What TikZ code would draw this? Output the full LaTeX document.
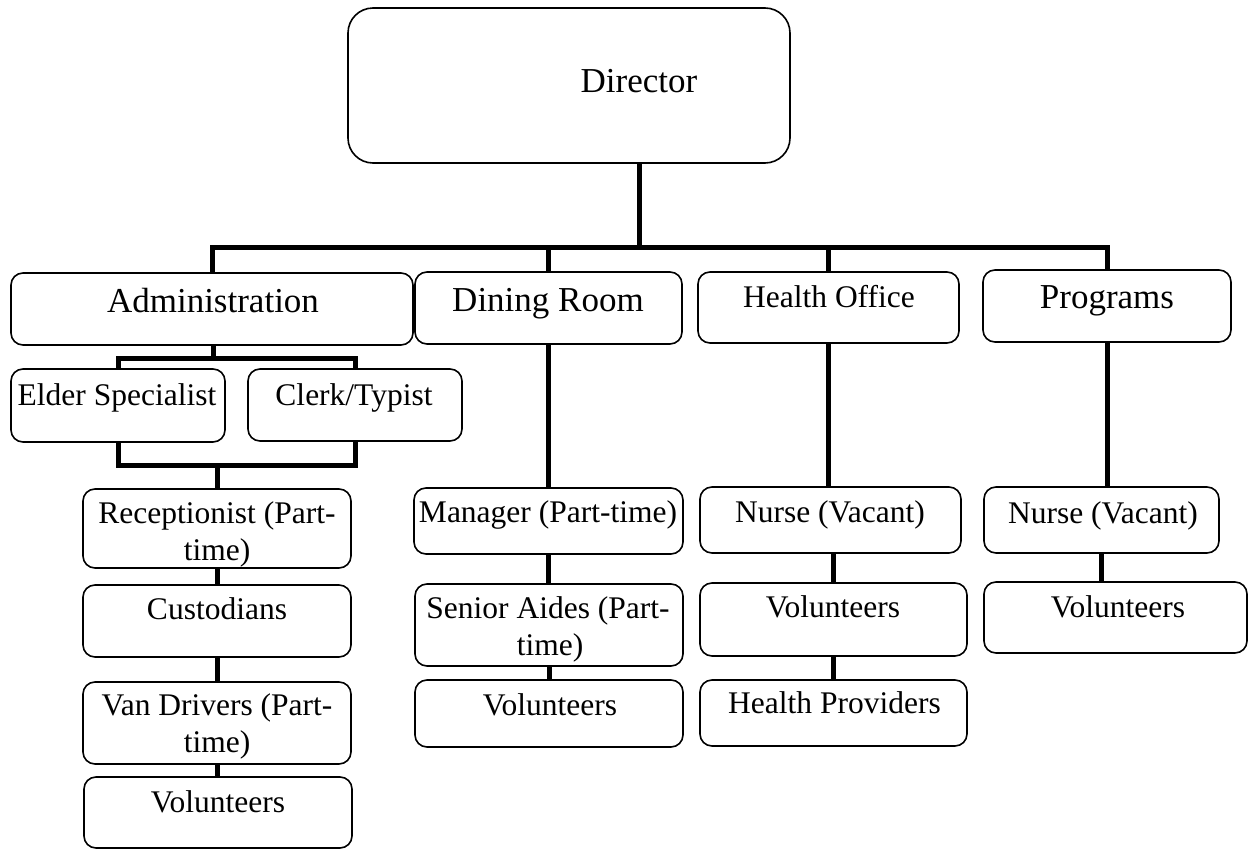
\documentclass[tikz,border=0pt]{standalone}
\usepackage{fontspec}
\setmainfont{Liberation Serif}
\begin{document}
\begin{tikzpicture}[x=1pt,y=-1pt,
  box/.style={draw, line width=1.6pt, rounded corners=12pt, inner sep=0pt},
  topbox/.style={box, rounded corners=25pt},
  conn/.style={draw, line width=5pt, line join=miter, line cap=butt},
  tbig/.style={anchor=base, inner sep=0pt, font=\fontsize{35}{40}\selectfont},
  tsmall/.style={anchor=base, inner sep=0pt, font=\fontsize{31.5}{37}\selectfont}]
\useasboundingbox (0,0) rectangle (1254,849);

% boxes: centre, width, height
\newcommand\orgbox[6][box]{%
  \node[#1, minimum width=#4pt, minimum height=#5pt] (#2) at (#3) {};}
\orgbox[topbox]{dir}{569,85.5}{442}{155}{}
\orgbox{admin}{212,309}{402}{72}{}
\orgbox{dining}{548.5,308}{267}{72}{}
\orgbox{health}{828.5,307.5}{261}{71}{}
\orgbox{prog}{1107,306}{248}{72}{}
\orgbox{elder}{118,405.5}{214}{73}{}
\orgbox{clerk}{355,405}{214}{72}{}
\orgbox{recep}{217,528.5}{268}{79}{}
\orgbox{cust}{217,621}{268}{72}{}
\orgbox{van}{217,723}{268}{82}{}
\orgbox{vola}{218,812.5}{268}{71}{}
\orgbox{manager}{548.5,521}{269}{66}{}
\orgbox{senior}{549,625}{268}{82}{}
\orgbox{vold}{549,713.5}{268}{67}{}
\orgbox{nurse}{830.5,520}{261}{66}{}
\orgbox{volh}{833.5,619.5}{267}{73}{}
\orgbox{hprov}{833.5,713}{267}{66}{}
\orgbox{nurseb}{1101.5,520}{235}{66}{}
\orgbox{volp}{1115.5,617.5}{263}{71}{}

% junction points of the connector lines
\coordinate (dirjoin) at (639,247);
\coordinate (busR) at (1107,247);
\coordinate (sub1) at (213,358);
\coordinate (sub2) at (217,465);

% connectors
\draw[conn] (dir.south -| dirjoin) -- (dirjoin);
\draw[conn] (admin.north) |- (busR) -- (prog.north);
\draw[conn] (dining.north) -- (dining.north |- busR);
\draw[conn] (health.north) -- (health.north |- busR);
\draw[conn] (admin.south -| sub1) -- (sub1);
\draw[conn] (elder.north) |- (sub1) -| (clerk.north);
\draw[conn] (elder.south) |- (sub2) -| (clerk.south);
\draw[conn] (sub2) -- (recep.north);
\draw[conn] (recep.south) -- (cust.north);
\draw[conn] (cust.south) -- (van.north);
\draw[conn] (van.south) -- (van.south |- vola.north);
\draw[conn] (dining.south) -- (dining.south |- manager.north);
\draw[conn] (manager.south) -- (manager.south |- senior.north);
\draw[conn] (senior.south) -- (senior.south |- vold.north);
\draw[conn] (health.south) -- (health.south |- nurse.north);
\draw[conn] (volh.north |- nurse.south) -- (volh.north);
\draw[conn] (volh.south) -- (hprov.north);
\draw[conn] (prog.south) -- (prog.south |- nurseb.north);
\draw[conn] (nurseb.south) -- (nurseb.south |- volp.north);

% labels
\node[tbig] (dir-t) at (639,92) {Director};
\node[tbig] (admin-t) at (213,312) {Administration};
\node[tbig] (dining-t) at (548,311) {Dining Room};
\node[tsmall] (health-t) at (829,307) {Health Office};
\node[tbig] (prog-t) at (1107,308) {Programs};
\node[tsmall] (elder-t) at (117,405) {Elder Specialist};
\node[tsmall] (clerk-t) at (354,405) {Clerk/Typist};
\node[tsmall] (recep-t) at (217,523) {Receptionist (Part-};
\node[tsmall] (recep-t2) at (217,560) {time)};
\node[tsmall] (cust-t) at (217,619) {Custodians};
\node[tsmall] (van-t) at (217,715) {Van Drivers (Part-};
\node[tsmall] (van-t2) at (217,752) {time)};
\node[tsmall] (vola-t) at (218,812) {Volunteers};
\node[tsmall] (manager-t) at (548,522) {Manager (Part-time)};
\node[tsmall] (senior-t) at (548,618) {Senior Aides (Part-};
\node[tsmall] (senior-t2) at (550,655) {time)};
\node[tsmall] (vold-t) at (550,715) {Volunteers};
\node[tsmall] (nurse-t) at (830,522) {Nurse (Vacant)};
\node[tsmall] (volh-t) at (833,617) {Volunteers};
\node[tsmall] (hprov-t) at (834.5,713) {Health Providers};
\node[tsmall] (nurseb-t) at (1103,523) {Nurse (Vacant)};
\node[tsmall] (volp-t) at (1118,617) {Volunteers};
\end{tikzpicture}
\end{document}
